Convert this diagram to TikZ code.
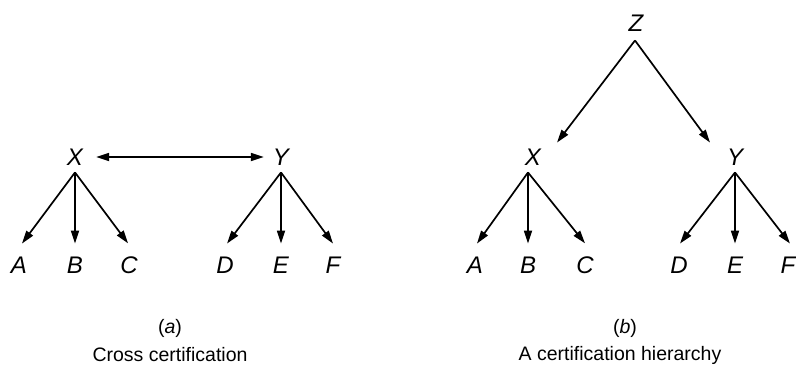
\documentclass[tikz,border=0pt]{standalone}
\usepackage{fontspec}
\setmainfont{Liberation Sans}
\usetikzlibrary{arrows.meta}
\begin{document}
\begin{tikzpicture}[x=1pt,y=-1pt,
  lbl/.style={inner sep=0pt,font=\fontsize{24}{26}\selectfont\itshape},
  captxt/.style={inner sep=0pt,font=\fontsize{19.5}{22}\selectfont},
  arr/.style={-{Triangle[length=13pt,width=8pt]},line width=1.7pt},
  darr/.style={{Triangle[length=13pt,width=8pt]}-{Triangle[length=13pt,width=8pt]},line width=1.7pt}]
\useasboundingbox (0,0) rectangle (796,368);
% (a)
\node[lbl] (Xa) at (75,157) {X};
\node[lbl] (Ya) at (281,157) {Y};
\node[lbl] (Aa) at (19,265) {A};
\node[lbl] (Ba) at (75,265) {B};
\node[lbl] (Ca) at (129,265) {C};
\node[lbl] (Da) at (225,265) {D};
\node[lbl] (Ea) at (281,265) {E};
\node[lbl] (Fa) at (333,265) {F};
\draw[darr] ([xshift=13pt]Xa.east) -- ([xshift=-9pt]Ya.west);
\draw[arr] ([yshift=-7pt]Xa.south) -- ([xshift=3pt,yshift=13pt]Aa.north);
\draw[arr] ([yshift=-7pt]Xa.south) -- ([yshift=13pt]Ba.north);
\draw[arr] ([yshift=-7pt]Xa.south) -- ([xshift=-1pt,yshift=13pt]Ca.north);
\draw[arr] ([yshift=-7pt]Ya.south) -- ([xshift=2pt,yshift=13pt]Da.north);
\draw[arr] ([yshift=-7pt]Ya.south) -- ([yshift=13pt]Ea.north);
\draw[arr] ([yshift=-7pt]Ya.south) -- ([yshift=13pt]Fa.north);
\node[captxt] (ta) at (170,328) {(\textit{a})};
\node[captxt] (ca) at (170,355) {Cross certification};
% (b)
\node[lbl] (Z) at (636,23) {Z};
\node[lbl] (Xb) at (533,157) {X};
\node[lbl] (Yb) at (735,157) {Y};
\node[lbl] (Ab) at (475,265) {A};
\node[lbl] (Bb) at (528,265) {B};
\node[lbl] (Cb) at (585,265) {C};
\node[lbl] (Db) at (679,265) {D};
\node[lbl] (Eb) at (735,265) {E};
\node[lbl] (Fb) at (788,265) {F};
\draw[arr] ([xshift=-1pt,yshift=-9pt]Z.south) -- ([xshift=24pt,yshift=6pt]Xb.north);
\draw[arr] ([xshift=-1pt,yshift=-9pt]Z.south) -- ([xshift=-25pt,yshift=6pt]Yb.north);
\draw[arr] ([xshift=-5pt,yshift=-7pt]Xb.south) -- ([xshift=2pt,yshift=13pt]Ab.north);
\draw[arr] ([xshift=-5pt,yshift=-7pt]Xb.south) -- ([yshift=13pt]Bb.north);
\draw[arr] ([xshift=-5pt,yshift=-7pt]Xb.south) -- ([yshift=13pt]Cb.north);
\draw[arr] ([yshift=-7pt]Yb.south) -- ([xshift=1pt,yshift=13pt]Db.north);
\draw[arr] ([yshift=-7pt]Yb.south) -- ([yshift=13pt]Eb.north);
\draw[arr] ([yshift=-7pt]Yb.south) -- ([xshift=2pt,yshift=13pt]Fb.north);
\node[captxt] (tb) at (625,328) {(\textit{b})};
\node[captxt] (cb) at (620,355) {A certification hierarchy};
\end{tikzpicture}
\end{document}
